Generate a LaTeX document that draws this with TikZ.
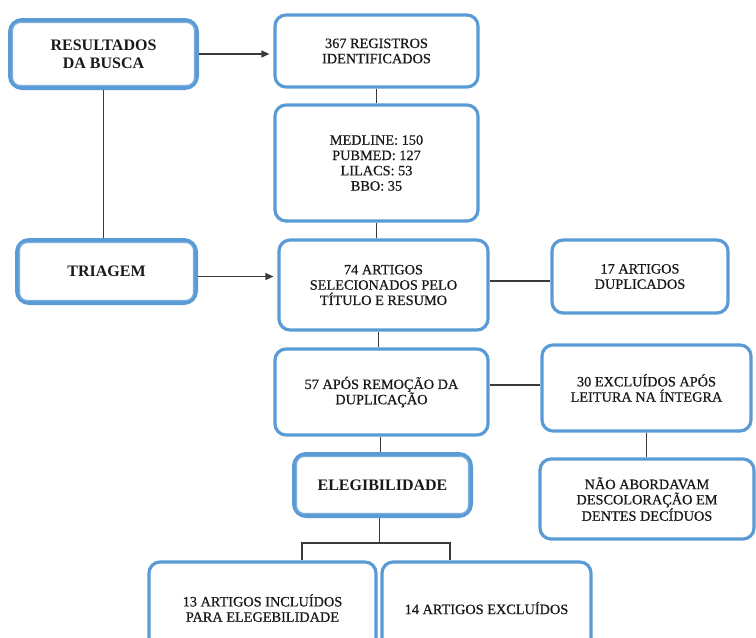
\documentclass[tikz,border=0pt]{standalone}
\usepackage{fontspec}
\setmainfont{Liberation Serif}
\newfontfamily\heavyserif[FakeBold=0.6]{Liberation Serif}
\usetikzlibrary{arrows.meta}
\definecolor{bx}{HTML}{5B9BD5}
\definecolor{ln}{HTML}{3A3A3A}
\begin{document}
\begin{tikzpicture}[x=1pt,y=-1pt,
 box/.style={draw=bx, line width=3.2pt, rounded corners=11pt, fill=white, align=center, inner sep=2pt, text=black!90, font=\heavyserif\fontsize{14.3}{15.3}\selectfont},
 dbox/.style={draw=bx, line width=4pt, rounded corners=12pt, fill=white, align=center, inner sep=2pt, text=black!90, font=\bfseries\fontsize{16}{18}\selectfont},
 inbox/.style={draw=bx!80, line width=1.1pt, rounded corners=8pt},
 conn/.style={draw=ln, line width=1.2pt},
 arr/.style={conn, -{Triangle[length=8pt,width=7pt]}, shorten >=4pt}]
\useasboundingbox (0,0) rectangle (756,638);
\clip (0,0) rectangle (756,638);

\node[dbox, minimum width=187pt, minimum height=68pt] (res) at (103.5,54) {RESULTADOS\\DA BUSCA};
\node[box, minimum width=203pt, minimum height=72pt] (reg) at (376.5,51) {367 REGISTROS\\IDENTIFICADOS};
\node[box, minimum width=203pt, minimum height=116pt] (db) at (376.5,163) {MEDLINE: 150\\PUBMED: 127\\LILACS: 53\\BBO: 35};
\node[dbox, minimum width=179pt, minimum height=63pt] (tri) at (106.5,271.5) {TRIAGEM};
\node[box, minimum width=209pt, minimum height=90pt] (sel) at (383.5,285) {74 ARTIGOS\\SELECIONADOS PELO\\TÍTULO E RESUMO};
\node[box, minimum width=176pt, minimum height=73pt] (dup) at (640,276.5) {17 ARTIGOS\\DUPLICADOS};
\node[box, minimum width=213pt, minimum height=86pt] (rem) at (381.5,392) {57 APÓS REMOÇÃO DA\\DUPLICAÇÃO};
\node[box, minimum width=209pt, minimum height=86pt] (exc) at (646.5,388) {30 EXCLUÍDOS APÓS\\LEITURA NA ÍNTEGRA};
\node[box, minimum width=214pt, minimum height=80pt] (nao) at (647,499) {NÃO ABORDAVAM\\DESCOLORAÇÃO EM\\DENTES DECÍDUOS};
\node[dbox, minimum width=177pt, minimum height=62pt] (ele) at (382.5,485) {ELEGIBILIDADE};
\node[box, minimum width=227pt, minimum height=92pt] (inc) at (262.5,608) {13 ARTIGOS INCLUÍDOS\\PARA ELEGEBILIDADE};
\node[box, minimum width=209pt, minimum height=92pt] (exb) at (486.5,608) {14 ARTIGOS EXCLUÍDOS};

% inner lines of the double-bordered boxes
\foreach \n in {res,tri,ele}{
  \draw[inbox] ([shift={(4.5,4.5)}]\n.north west) rectangle ([shift={(-4.5,-4.5)}]\n.south east);
}

% connectors
\draw[arr] (res.east) -- (res.east -| reg.west);
\draw[conn] (res.south) -- (res.south |- tri.north);
\draw[arr] ([yshift=-5pt]tri.east) -- ([yshift=-5pt]tri.east -| sel.west);
\draw[conn] (reg.south) -- (db.north);
\draw[conn] (db.south) -- (db.south |- sel.north);
\draw[conn] ([yshift=4pt]sel.east) -- ([yshift=4pt]sel.east -| dup.west);
\draw[conn] ([xshift=-5pt]sel.south) -- ([xshift=-5pt]sel.south |- rem.north);
\draw[conn] ([yshift=7pt]rem.east) -- ([yshift=7pt]rem.east -| exc.west);
\draw[conn] (exc.south) -- (exc.south |- nao.north);
\draw[conn] ([xshift=-2pt]ele.north) -- ([xshift=-2pt]ele.north |- rem.south);
\draw[conn] ([xshift=-3pt]ele.south) -- ++(0,25) coordinate (jn);
\draw[conn] ([xshift=39.5pt]inc.north) |- (jn) -| ([xshift=-36.5pt]exb.north);
\end{tikzpicture}
\end{document}
